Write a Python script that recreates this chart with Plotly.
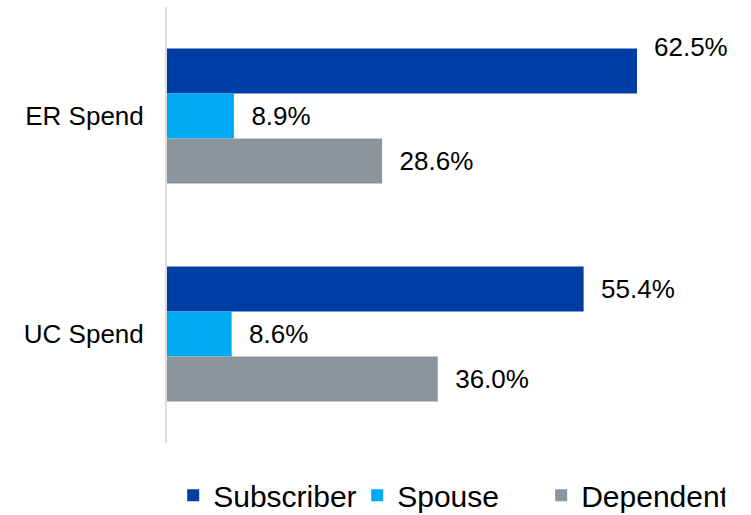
import plotly.graph_objects as go

categories = ["ER Spend", "UC Spend"]
series_names = ["Subscriber", "Spouse", "Dependent"]
subscriber = [62.5, 55.4]
spouse = [8.9, 8.6]
dependent = [28.6, 36.0]
colors = ["#003DA5", "#00A9F4", "#8B959B"]

values = [subscriber, spouse, dependent]
NB = "\u00a0\u00a0"

fig = go.Figure()
for i, (name, vals, col) in enumerate(zip(series_names, values, colors)):
    texts = [NB + f"{v:.1f}%" for v in vals]
    if i == 0:
        texts[0] = ""  # ER subscriber label is placed higher, as an annotation
    fig.add_trace(go.Bar(
        y=categories, x=vals, name=name, orientation="h",
        marker=dict(color=col, line=dict(width=0)),
        text=texts, textposition="outside", cliponaxis=False,
        textfont=dict(size=26, color="#000000", family="Liberation Sans, Arial"),
        hoverinfo="skip",
    ))

fig.add_annotation(
    x=subscriber[0], y=categories[0], text=f"{subscriber[0]:.1f}%",
    showarrow=False, xanchor="left", yanchor="middle",
    xshift=15, yshift=69,
    font=dict(size=26, color="#000000", family="Liberation Sans, Arial"),
)

fig.update_layout(
    width=751, height=515,
    margin=dict(l=167, r=20, t=7, b=72, autoexpand=False),
    paper_bgcolor="white", plot_bgcolor="white",
    barmode="group", bargap=0.38, bargroupgap=0,
    font=dict(family="Liberation Sans, Arial", size=26, color="#000000"),
    showlegend=True,
    legend=dict(
        orientation="h", x=0.011, xanchor="left", y=-0.06, yanchor="top",
        font=dict(size=30, color="#000000"),
        traceorder="normal", entrywidth=139, entrywidthmode="pixels",
    ),
    xaxis=dict(range=[0, 75], showgrid=False, showticklabels=False,
               zeroline=False, showline=False, fixedrange=True,
               automargin=False),
    yaxis=dict(autorange="reversed", showgrid=False, showline=True,
               linecolor="#DDDDDD", linewidth=2, ticks="",
               ticklabelstandoff=16, automargin=False,
               tickfont=dict(size=26, color="#000000"), fixedrange=True),
)

fig.write_html("out.html", config={"displayModeBar": False},
               post_script="document.body.style.margin='0';")
